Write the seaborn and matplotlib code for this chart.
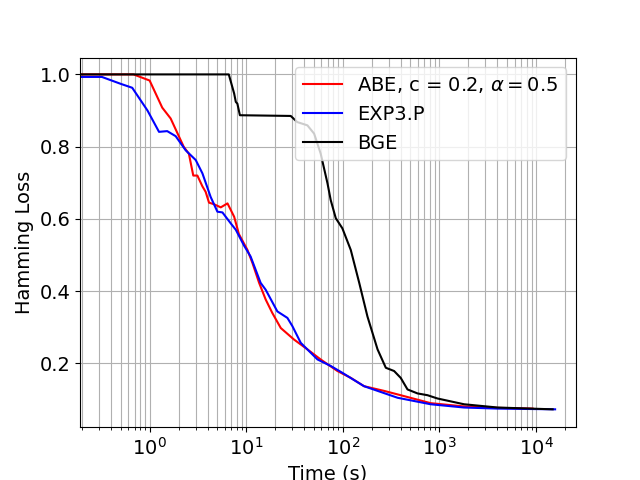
import pandas as pd
import matplotlib
matplotlib.use("Agg")
import matplotlib.pyplot as plt
import seaborn as sns

# -------------------------------
# Data (time in seconds, hamming loss)
# -------------------------------
abe_t = [0.15, 0.68, 1.0, 1.35, 1.65, 2.25, 2.55, 2.83, 3.12, 3.52, 3.8, 4.12,
         4.6, 5.45, 6.4, 7.5, 8.4, 10.3, 11.6, 13.6, 15.9, 18.6, 22.8, 31.3,
         43, 59, 88, 121, 166, 268, 398, 813, 1800, 4000, 9240]
abe_loss = [1.0, 1.0, 0.983, 0.908, 0.878, 0.80, 0.78, 0.72, 0.72, 0.69, 0.675, 0.645,
            0.641, 0.632, 0.643, 0.606, 0.558, 0.514, 0.478, 0.423, 0.377, 0.34, 0.298, 0.266,
            0.239, 0.211, 0.179, 0.16, 0.137, 0.124, 0.112, 0.09, 0.081, 0.077, 0.075]

exp3_t = [0.15, 0.32, 0.5, 0.66, 0.95, 1.25, 1.52, 1.86, 2.36, 3.0, 3.52, 4.28,
          5.03, 5.67, 6.9, 7.8, 9.5, 11.1, 14.1, 15.9, 21, 26.7, 30.1, 36.7,
          54.7, 75, 99, 166, 369, 813, 1800, 4000, 15800]
exp3_loss = [0.993, 0.993, 0.974, 0.963, 0.90, 0.841, 0.843, 0.829, 0.79, 0.763, 0.726, 0.661,
             0.62, 0.618, 0.588, 0.57, 0.526, 0.496, 0.423, 0.404, 0.344, 0.326, 0.303, 0.257,
             0.211, 0.193, 0.174, 0.137, 0.105, 0.087, 0.078, 0.075, 0.073]

bge_t = [0.15, 6.6, 7.5, 7.8, 8.1, 8.6, 28.9, 33.8, 43, 50.5, 59, 69.5,
         75, 84.6, 99, 121, 148, 180, 229, 279, 340, 398, 468, 594, 755,
         955, 1800, 4000, 14900]
bge_loss = [1.0, 1.0, 0.947, 0.924, 0.919, 0.887, 0.885, 0.868, 0.859, 0.836, 0.781, 0.698,
            0.652, 0.602, 0.574, 0.514, 0.423, 0.33, 0.239, 0.188, 0.179, 0.16, 0.128, 0.117, 0.112,
            0.103, 0.087, 0.078, 0.073]

labels = [r"ABE, c = 0.2, $\alpha = 0.5$", "EXP3.P", "BGE"]
colors = ["red", "blue", "black"]

df = pd.concat([
    pd.DataFrame({"time": abe_t, "loss": abe_loss, "method": labels[0]}),
    pd.DataFrame({"time": exp3_t, "loss": exp3_loss, "method": labels[1]}),
    pd.DataFrame({"time": bge_t, "loss": bge_loss, "method": labels[2]}),
], ignore_index=True)

# -------------------------------
# Plot
# -------------------------------
fig, ax = plt.subplots(figsize=(6.4, 4.8), dpi=100)
sns.lineplot(data=df, x="time", y="loss", hue="method", hue_order=labels,
             palette=dict(zip(labels, colors)), estimator=None, sort=False,
             linewidth=1.5, ax=ax)

ax.set_xscale("log")
ax.set_xlim(0.19, 26000)
ax.set_ylim(0.0235, 1.0465)
ax.grid(True, which="both", color="#b0b0b0", linewidth=0.8)
ax.set_xlabel("Time (s)", fontsize=14)
ax.set_ylabel("Hamming Loss", fontsize=14)
ax.tick_params(axis="both", which="major", labelsize=14)
ax.legend(loc="upper right", fontsize=14, title=None)

fig.savefig("out.png", dpi=100)
